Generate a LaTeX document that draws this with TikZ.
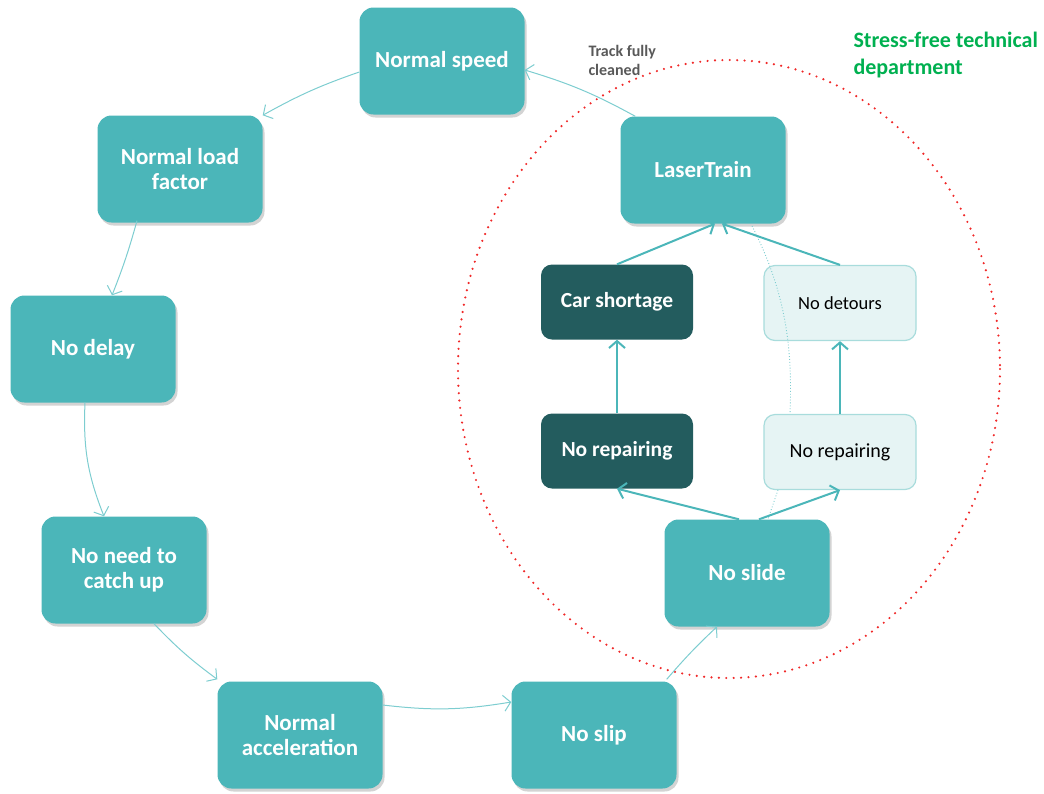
\documentclass[tikz,border=0pt]{standalone}
\usepackage{fontspec}
\setmainfont{Carlito}
\usepackage{tikz}
\usetikzlibrary{arrows.meta,shadows}
\definecolor{tealbox}{RGB}{75,182,185}
\definecolor{darkbox}{RGB}{35,92,94}
\definecolor{lightbox}{RGB}{230,244,244}
\definecolor{lightedge}{RGB}{168,220,220}
\definecolor{thinarrow}{RGB}{125,205,208}
\definecolor{redring}{RGB}{240,40,40}
\definecolor{greentext}{RGB}{0,176,80}
\tikzstyle{state}=[rounded corners=14pt,fill=tealbox,text=white,font=\fontsize{23}{25}\selectfont\bfseries,
	minimum width=165pt,minimum height=107pt,align=center,
	drop shadow={opacity=0.35,shadow xshift=2pt,shadow yshift=-3pt}]
\tikzstyle{darkstate}=[rounded corners=11pt,fill=darkbox,text=white,font=\fontsize{21.5}{25}\selectfont\bfseries,
	minimum width=152pt,minimum height=75pt,align=center]
\tikzstyle{lightstate}=[rounded corners=11pt,fill=lightbox,draw=lightedge,line width=1.2pt,text=black,
	font=\fontsize{18.5}{22}\selectfont,minimum width=152pt,minimum height=75pt,align=center]
\tikzstyle{loop}=[thinarrow,line width=1pt,-{Straight Barb[length=7pt,width=16pt]}]
\tikzstyle{inner}=[tealbox,line width=2pt,-{Straight Barb[length=7pt,width=16pt]}]

\begin{document}
\begin{tikzpicture}[x=1pt,y=-1pt]
	\useasboundingbox (0,0) rectangle (1044,793);

	% the outer cycle
	\node[state] (speed) at (442,61) {Normal speed};
	\node[state] (load) at (180,169) {Normal load\\factor};
	\node[state] (delay) at (93,349) {No delay};
	\node[state] (catch) at (124,570) {No need to\\catch up};
	\node[state] (accel) at (300,735) {Normal\\acceleration};
	\node[state] (slip) at (594,735) {No slip};
	\node[state] (slide) at (747,573) {No slide};
	\node[state] (laser) at (703,170) {LaserTrain};

	% inside the ring
	\node[darkstate] (shortage) at (617,302) {Car shortage};
	\node[darkstate] (repairA) at (617,451) {No repairing};
	\node[lightstate] (detours) at (840,303) {No detours};
	\node[lightstate,font=\fontsize{20}{24}\selectfont] (repairB) at (840,452) {No repairing};

	% ring and labels
	\draw[redring,line width=2.4pt,dash pattern=on 0pt off 7.4pt,line cap=round] (729,369) ellipse (271 and 309);
	\node[anchor=north west,align=left,text=black!65,font=\fontsize{16}{19}\selectfont\bfseries] (track) at (585,42) {Track fully\\cleaned};
	\node[anchor=north west,align=left,text=greentext,font=\fontsize{22}{27}\selectfont\bfseries] (stress) at (850,29) {Stress-free technical\\department};

	% faint divider
	\draw[thinarrow,line width=0.9pt,dotted] (752,226) .. controls (790,300) and (792,360) .. (790,414);
	\draw[thinarrow,line width=0.9pt,dotted] (778,490) -- (768,519);

	% cycle connectors
	\draw[loop] (speed.west|-0,72) to[bend right=5] (load.north east);
	\draw[loop] ([xshift=-43pt,yshift=2pt]load.south) to[bend left=3] ([xshift=19pt]delay.north);
	\draw[loop] ([xshift=-8pt]delay.south) to[bend left=-12] ([xshift=-20pt]catch.north);
	\draw[loop] ([xshift=30pt]catch.south) to[bend right=5] ([yshift=2pt]accel.north west);
	\draw[loop] ([yshift=30pt]accel.east) to[bend right=8] ([yshift=33pt]slip.west);
	\draw[loop] ([xshift=-10pt,yshift=2pt]slip.north east) to[bend left=3] ([xshift=-30pt]slide.south);
	\draw[loop] ([xshift=15pt]laser.north west) to[bend right=6] ([yshift=-9pt]speed.east);

	% inner connectors
	\draw[inner] ([xshift=-8pt]slide.north) -- (repairA.south);
	\draw[inner] ([xshift=12pt]slide.north) -- (repairB.south);
	\draw[inner] (repairA.north) -- (shortage.south);
	\draw[inner] (repairB.north) -- (detours.south);
	\draw[inner] (shortage.north) -- ([xshift=12pt]laser.south);
	\draw[inner] (detours.north) -- ([xshift=19pt]laser.south);
\end{tikzpicture}
\end{document}
